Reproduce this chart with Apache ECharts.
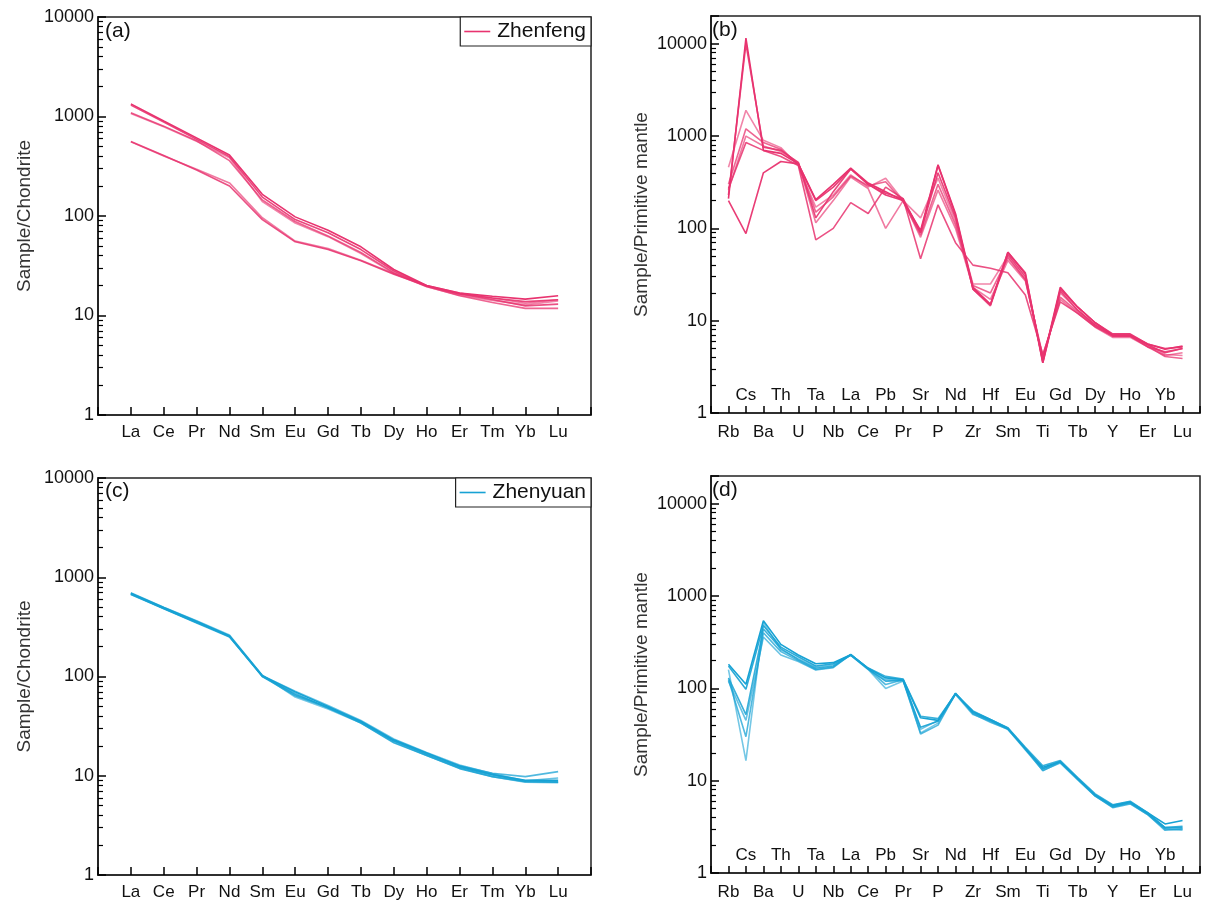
<!DOCTYPE html>
<html lang="en">
<head>
<meta charset="UTF-8">
<title>Chondrite and primitive mantle normalized patterns</title>
<script src="https://cdn.jsdelivr.net/npm/echarts@6.0.0/dist/echarts.min.js"></script>
<style>
    html, body { margin: 0; padding: 0; background: #fff; }
    #chart { width: 1206px; height: 905px; }
</style>
</head>
<body>
<div id="chart"></div>
<script type="text/javascript">

    // element order on the x axes
    var reeElements = ['La', 'Ce', 'Pr', 'Nd', 'Sm', 'Eu', 'Gd', 'Tb', 'Dy', 'Ho', 'Er', 'Tm', 'Yb', 'Lu'];
    var spiderElements = ['Rb', 'Cs', 'Ba', 'Th', 'U', 'Ta', 'Nb', 'La', 'Ce', 'Pb', 'Pr', 'Sr', 'P', 'Nd',
        'Zr', 'Hf', 'Sm', 'Eu', 'Ti', 'Gd', 'Tb', 'Dy', 'Y', 'Ho', 'Er', 'Yb', 'Lu'];

    // (a) Zhenfeng, chondrite normalized
    var zhenfengRee = [
        [1340, 900, 610, 410, 165, 98, 72, 49, 29, 20, 16.8, 15.6, 14.6, 15.8],
        [1300, 880, 590, 395, 155, 92, 68, 46, 28, 19.8, 16.5, 15, 13.8, 14.4],
        [1070, 790, 565, 385, 140, 85, 62, 42, 26.5, 19.5, 16, 14.2, 12.8, 14],
        [1090, 800, 570, 360, 145, 88, 63, 43, 27, 19.6, 15.8, 13.5, 11.8, 11.8],
        [556, 400, 295, 215, 96, 56, 47, 36, 26.5, 20, 16.8, 15, 13.3, 14.4],
        [560, 405, 290, 200, 92, 55, 46, 35.5, 26, 19.8, 16.5, 14.5, 12.5, 13]
    ];

    // (b) Zhenfeng, primitive mantle normalized
    var zhenfengSpider = [
        [210, 11500, 700, 650, 500, 205, 300, 450, 310, 250, 200, 95, 490, 145, 23, 15, 55, 32, 3.6, 23, 14, 9.5, 7, 7, 5.6, 4.9, 5.3],
        [230, 10000, 760, 700, 520, 130, 250, 440, 300, 240, 210, 90, 400, 130, 22, 14.5, 52, 30, 3.5, 21, 13, 9, 7, 7, 5.5, 4.5, 5],
        [460, 1900, 900, 750, 480, 170, 230, 380, 280, 350, 200, 130, 350, 120, 25, 25, 50, 28, 3.8, 20, 13, 9, 7, 6.8, 5.5, 4.3, 4.2],
        [300, 1200, 850, 720, 500, 150, 220, 370, 290, 320, 195, 85, 300, 110, 24, 20, 48, 28, 4, 18, 12.5, 8.8, 6.8, 6.8, 5.3, 4.1, 3.9],
        [260, 1000, 780, 680, 510, 115, 200, 360, 270, 100, 200, 80, 260, 100, 23, 17, 45, 27, 4.2, 17, 12, 8.5, 6.6, 6.6, 5.2, 4.2, 4.5],
        [270, 850, 700, 600, 480, 75, 100, 190, 145, 280, 210, 47, 180, 70, 40, 37, 33, 19, 4.3, 16, 12, 8.6, 6.8, 6.8, 5.2, 4.6, 5],
        [200, 88, 400, 530, 500, 200, 280, 440, 300, 230, 200, 90, 480, 140, 22, 15, 55, 33, 3.5, 22, 14, 9.5, 7.2, 7.2, 5.6, 5, 5.2]
    ];

    // (c) Zhenyuan, chondrite normalized
    var zhenyuanRee = [
        [690, 495, 360, 258, 102, 70, 50, 35.5, 23, 17, 12.5, 10.3, 9, 9],
        [680, 485, 350, 255, 101, 66, 49, 35, 22.5, 16.5, 12.2, 10.2, 8.8, 8.7],
        [700, 500, 365, 262, 103, 62, 47, 34, 22, 16, 12, 9.8, 8.6, 8.5],
        [670, 480, 345, 250, 100, 68, 48, 34.5, 22.5, 16.8, 12.6, 10.6, 9.8, 11],
        [685, 490, 355, 252, 102, 71, 51, 36, 23.5, 17.2, 12.8, 10.5, 8.9, 9.5],
        [675, 488, 352, 256, 100, 64, 48.5, 34, 21.5, 16, 11.8, 9.8, 8.7, 8.6]
    ];

    // (d) Zhenyuan, primitive mantle normalized
    var zhenyuanSpider = [
        [183, 111, 540, 300, 230, 185, 190, 232, 165, 130, 125, 48, 45, 88, 56, 46, 37, 22, 14, 16, 10.5, 7, 5.4, 5.9, 4.5, 3.4, 3.7],
        [175, 98, 480, 280, 220, 175, 185, 230, 162, 120, 122, 38, 44, 87, 55, 45, 36.5, 22.5, 13.5, 16, 10.6, 7, 5.3, 5.8, 4.4, 3.1, 3.1],
        [160, 16.5, 520, 260, 210, 170, 180, 228, 160, 100, 120, 33, 42, 86, 52, 44, 36, 21.5, 13, 15.5, 10.2, 6.8, 5.2, 5.7, 4.3, 3, 2.9],
        [125, 30, 400, 250, 200, 160, 170, 234, 163, 110, 124, 32, 40, 88, 53, 43, 36, 22, 12.8, 15.8, 10.3, 6.8, 5.1, 5.6, 4.3, 2.9, 3],
        [120, 45, 360, 230, 195, 158, 168, 232, 164, 125, 123, 36, 45, 89, 54, 45, 37, 22.5, 13.5, 16.2, 10.5, 6.9, 5.2, 5.8, 4.4, 3, 3],
        [130, 52, 440, 270, 205, 165, 175, 230, 166, 135, 126, 50, 47, 87, 57, 46, 37.5, 23, 14.5, 16.5, 10.8, 7.2, 5.5, 6, 4.5, 3.1, 3.2]
    ];

    var FONT = '"Liberation Sans", Arial, sans-serif';
    var PINK = '#e8336f';
    var BLUE = '#17a2d4';
    var AXIS = '#222';
    var TICK = '#000000';
    var alphas = [1, 0.9, 0.6, 0.75, 0.65, 0.85, 0.95];

    function log10(v) { return Math.log(v) / Math.LN10; }

    // log minor ticks 2..9 in each decade, kept in log10 units for a linear helper axis
    var minorTicks = [];
    [1, 10, 100, 1000].forEach(function (d) {
        for (var k = 2; k <= 9; k++) minorTicks.push(log10(d * k));
    });

    function padCats(list) { return [''].concat(list, ['']); }
    function padData(list) { return [null].concat(list, [null]); }

    function decadeLabel(v) {
        var l = log10(v);
        return Math.abs(l - Math.round(l)) < 1e-6 ? String(Math.round(v)) : '';
    }

    function yMajor(grid, max, name, gap) {
        return {
            type: 'log', logBase: 10, gridIndex: grid, position: 'left', offset: 0,
            min: 1, max: max, splitNumber: 4,
            name: name, nameLocation: 'middle', nameGap: gap,
            nameTextStyle: {fontSize: 19, color: '#333', fontFamily: FONT},
            axisLine: {show: true, lineStyle: {color: AXIS, width: 1.5}},
            axisTick: {show: true, inside: true, length: 8, lineStyle: {color: TICK, width: 1.5}},
            axisLabel: {fontSize: 18, color: '#111', fontFamily: FONT, margin: 4, formatter: decadeLabel},
            splitLine: {show: false}
        };
    }

    // helper axis in log10 units that only carries the minor ticks
    function yMinor(grid, max) {
        return {
            type: 'value', gridIndex: grid, position: 'left', offset: 0,
            min: 0, max: log10(max),
            axisLine: {show: true, lineStyle: {color: AXIS, width: 1.5}},
            axisLabel: {show: false},
            splitLine: {show: false},
            axisTick: {show: true, inside: true, length: 5, customValues: minorTicks,
                lineStyle: {color: TICK, width: 1.2}}
        };
    }

    function xAxisFor(grid, cats, opts) {
        return {
            type: 'category', gridIndex: grid, position: 'bottom', offset: 0,
            data: padCats(cats), boundaryGap: false,
            axisLine: {show: opts.line, lineStyle: {color: AXIS, width: 1.5}},
            axisTick: {show: opts.line, inside: true, length: opts.tick, interval: 0,
                lineStyle: {color: TICK, width: 1.5}},
            axisLabel: {
                interval: 0, inside: !!opts.inside, margin: opts.margin,
                fontSize: 17, color: '#111', fontFamily: FONT,
                formatter: function (v, i) { return v !== '' && opts.show(i - 1) ? v : ''; }
            },
            splitLine: {show: false}
        };
    }

    function all() { return true; }
    function even(i) { return i % 2 === 0; }
    function odd(i) { return i % 2 === 1; }

    var grids = [
        {left: 98, top: 17, width: 493, height: 398},
        {left: 711, top: 16, width: 489, height: 397},
        {left: 98, top: 478, width: 493, height: 397},
        {left: 711, top: 476, width: 489, height: 397}
    ].map(function (g) {
        g.show = true;
        g.borderColor = AXIS;
        g.borderWidth = 1.5;
        g.backgroundColor = 'transparent';
        return g;
    });

    var xAxes = [
        xAxisFor(0, reeElements, {line: true, tick: 8, margin: 9, show: all}),
        xAxisFor(1, spiderElements, {line: true, tick: 7, margin: 11, show: even}),
        xAxisFor(1, spiderElements, {line: false, tick: 7, inside: true, margin: 9, show: odd}),
        xAxisFor(2, reeElements, {line: true, tick: 8, margin: 9, show: all}),
        xAxisFor(3, spiderElements, {line: true, tick: 7, margin: 11, show: even}),
        xAxisFor(3, spiderElements, {line: false, tick: 7, inside: true, margin: 9, show: odd})
    ];

    var yAxes = [
        yMajor(0, 10000, 'Sample/Chondrite', 64), yMinor(0, 10000),
        yMajor(1, 20000, 'Sample/Primitive mantle', 60), yMinor(1, 20000),
        yMajor(2, 10000, 'Sample/Chondrite', 64), yMinor(2, 10000),
        yMajor(3, 20000, 'Sample/Primitive mantle', 60), yMinor(3, 20000)
    ];

    var series = [];
    function addPanel(samples, name, color, xIdx, yIdx) {
        samples.forEach(function (s, k) {
            series.push({
                type: 'line', name: name, xAxisIndex: xIdx, yAxisIndex: yIdx,
                data: padData(s), showSymbol: false, symbol: 'none', silent: true,
                color: color,
                lineStyle: {width: 1.6, color: color, opacity: alphas[k % alphas.length]}
            });
        });
    }
    addPanel(zhenfengRee, 'Zhenfeng', PINK, 0, 0);
    addPanel(zhenfengSpider, 'Zhenfeng', PINK, 1, 2);
    addPanel(zhenyuanRee, 'Zhenyuan', BLUE, 3, 4);
    addPanel(zhenyuanSpider, 'Zhenyuan', BLUE, 4, 6);

    function panelTitle(text, left, top) {
        return {text: text, left: left, top: top, padding: 0,
            textStyle: {fontSize: 21, fontWeight: 'normal', color: '#111', fontFamily: FONT}};
    }

    function legendBox(name, top) {
        return {
            data: [name], right: 615, top: top, orient: 'horizontal',
            icon: 'rect', itemWidth: 26, itemHeight: 1.6,
            padding: [4, 5, 4, 4], borderColor: AXIS, borderWidth: 1.2, borderRadius: 0,
            backgroundColor: '#fff',
            textStyle: {fontSize: 21, color: '#111', fontFamily: FONT, padding: [0, 0, 0, 2]}
        };
    }

    var myChart = echarts.init(document.getElementById('chart'), null, {renderer: 'canvas'});
    myChart.setOption({
        animation: false,
        backgroundColor: '#fff',
        textStyle: {fontFamily: FONT},
        title: [
            panelTitle('(a)', 105, 21),
            panelTitle('(b)', 712, 20),
            panelTitle('(c)', 105, 481),
            panelTitle('(d)', 712, 480)
        ],
        legend: [legendBox('Zhenfeng', 17), legendBox('Zhenyuan', 478)],
        grid: grids,
        xAxis: xAxes,
        yAxis: yAxes,
        series: series
    });
</script>
</body>
</html>
